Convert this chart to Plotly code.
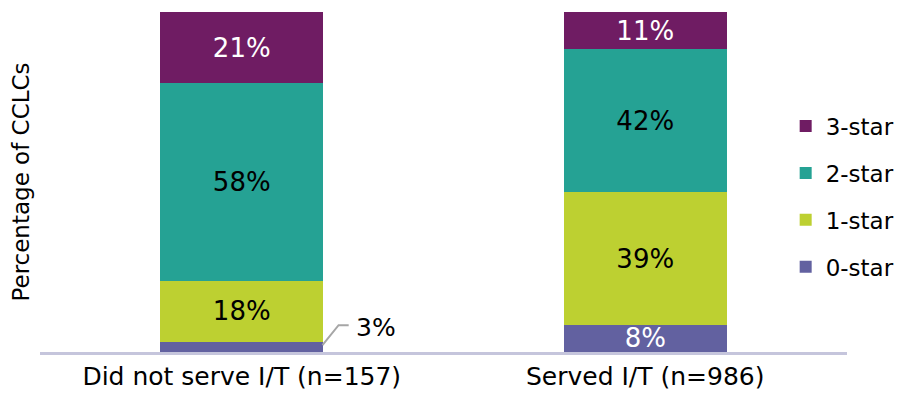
import plotly.graph_objects as go

categories = ["Did not serve I/T (n=157)", "Served I/T (n=986)"]
series_names = ["0-star", "1-star", "2-star", "3-star"]
star0 = [3, 8]
star1 = [18, 39]
star2 = [58, 42]
star3 = [21, 11]
colors = ["#6261a0", "#bdd031", "#25a294", "#6f1c63"]
text_colors = ["white", "black", "black", "white"]
legend_ranks = [4, 3, 2, 1]

FONT = "Verdana, DejaVu Sans, sans-serif"
values = [star0, star1, star2, star3]

fig = go.Figure()
for name, vals, col, tcol, rank in zip(series_names, values, colors, text_colors, legend_ranks):
    texts = [f"{v}%" if v >= 5 else "" for v in vals]
    fig.add_trace(go.Bar(
        x=categories, y=vals, name=name, legendgroup=name, legendrank=rank,
        marker=dict(color=col, line=dict(width=0)),
        text=texts, textposition="inside", insidetextanchor="middle",
        constraintext="none",
        textfont=dict(color=tcol, size=26, family=FONT),
        textangle=0, hoverinfo="skip", cliponaxis=False,
    ))

# callout for small segment (left bar, 0-star)
small_val = star0[0]
half_w = 0.2
fig.add_shape(type="path", xref="x", yref="y",
              path=f"M {half_w} {small_val*0.68} L {half_w+0.04} {small_val*2.63} L {half_w+0.065} {small_val*2.63}",
              line=dict(color="#a6a6a6", width=2))
fig.add_annotation(x=half_w + 0.077, y=small_val * 2.45, xref="x", yref="y",
                   text=f"{small_val}%", showarrow=False, xanchor="left",
                   font=dict(size=25, color="black", family=FONT))

fig.update_layout(
    width=909, height=401,
    margin=dict(l=32, r=70, t=4, b=57, autoexpand=False),
    barmode="stack", bargap=0.596,
    plot_bgcolor="white", paper_bgcolor="white",
    font=dict(family=FONT, color="black"),
    showlegend=True,
    legend=dict(traceorder="grouped", x=0.924, y=0.457, xanchor="left", yanchor="middle",
                font=dict(size=23, family=FONT), tracegroupgap=14,
                itemwidth=30, bgcolor="rgba(0,0,0,0)"),
    xaxis=dict(showline=True, linecolor="#c5c5dc", linewidth=3, ticks="",
               tickfont=dict(size=25, family=FONT), showgrid=False, automargin=False),
    yaxis=dict(range=[0, 100], showticklabels=False, showgrid=False, zeroline=False,
               automargin=False,
               title=dict(text="Percentage of CCLCs", font=dict(size=23, family=FONT), standoff=6)),
)

fig.write_html("out.html")
